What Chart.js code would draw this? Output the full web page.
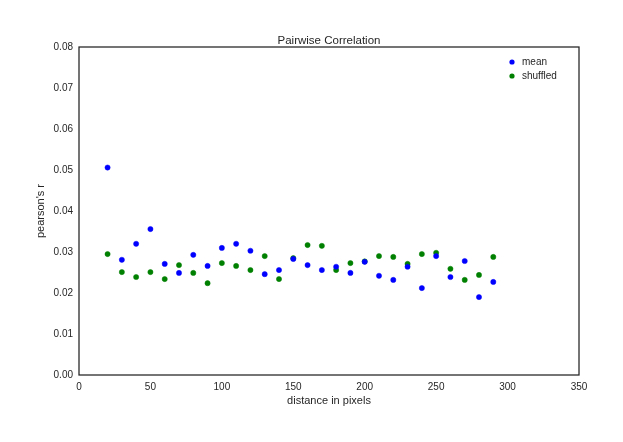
<!DOCTYPE html>
<html>
<head>
<meta charset="utf-8">
<script src="https://cdn.jsdelivr.net/npm/chart.js@4.4.0/dist/chart.umd.min.js"></script>
<style>
  html, body { margin: 0; padding: 0; background: #fff; }
  #wrap { width: 623px; height: 442px; }
</style>
</head>
<body>
<div id="wrap"><canvas id="grafico"></canvas></div>
<script>
// distancias (px) y correlaciones
const distancias = [20, 30, 40, 50, 60, 70, 80, 90, 100, 110, 120, 130, 140, 150,
    160, 170, 180, 190, 200, 210, 220, 230, 240, 250, 260, 270, 280, 290];

const valoresMedia = [0.0506, 0.0281, 0.0320, 0.0356, 0.0271, 0.0249, 0.0293, 0.0266,
    0.0310, 0.0320, 0.0303, 0.0246, 0.0256, 0.0283, 0.0268, 0.0256, 0.0264, 0.0249,
    0.0276, 0.0242, 0.0232, 0.0264, 0.0212, 0.0290, 0.0239, 0.0278, 0.0190, 0.0227];

const valoresMezclados = [0.0295, 0.0251, 0.0239, 0.0251, 0.0234, 0.0268, 0.0249, 0.0224,
    0.0273, 0.0266, 0.0256, 0.0290, 0.0234, 0.0285, 0.0317, 0.0315, 0.0256, 0.0273,
    0.0277, 0.0290, 0.0288, 0.0271, 0.0295, 0.0298, 0.0259, 0.0232, 0.0244, 0.0288];

const ticksY = [0, 0.01, 0.02, 0.03, 0.04, 0.05, 0.06, 0.07, 0.08];
const ticksX = [0, 50, 100, 150, 200, 250, 300, 350];

const colorTexto = '#262626';
const fuente = 'Liberation Sans, Arial, sans-serif';

const aPuntos = (xs, ys) => xs.map((x, i) => ({ x: x, y: ys[i] }));

// titulo, marco y leyenda dibujados sobre el area del grafico
const decoracion = {
    id: 'decoracion',
    afterDraw(chart) {
        const { ctx, chartArea: a } = chart;
        ctx.save();
        ctx.strokeStyle = '#222';
        ctx.lineWidth = 1.25;
        ctx.strokeRect(a.left, a.top, a.right - a.left, a.bottom - a.top);

        ctx.fillStyle = colorTexto;
        ctx.font = '11.5px ' + fuente;
        ctx.textAlign = 'center';
        ctx.textBaseline = 'middle';
        ctx.fillText('Pairwise Correlation', (a.left + a.right) / 2, 41);

        ctx.textAlign = 'left';
        ctx.font = '10px ' + fuente;
        chart.data.datasets.forEach((ds, i) => {
            const y = 62 + i * 14;
            ctx.beginPath();
            ctx.fillStyle = ds.backgroundColor;
            ctx.arc(512, y, 2.6, 0, Math.PI * 2);
            ctx.fill();
            ctx.fillStyle = colorTexto;
            ctx.fillText(ds.label, 522, y);
        });
        ctx.restore();
    }
};

new Chart(document.getElementById('grafico').getContext('2d'), {
    type: 'scatter',
    data: {
        datasets: [
            {
                label: 'mean',
                data: aPuntos(distancias, valoresMedia),
                backgroundColor: '#0000ff',
                borderColor: '#0000ff',
                borderWidth: 0.5,
                pointRadius: 2.6,
            },
            {
                label: 'shuffled',
                data: aPuntos(distancias, valoresMezclados),
                backgroundColor: '#008000',
                borderColor: '#008000',
                borderWidth: 0.5,
                pointRadius: 2.6,
            },
        ],
    },
    options: {
        responsive: true,
        maintainAspectRatio: false,
        animation: false,
        layout: { padding: { left: 0, right: 44, top: 47, bottom: 0 } },
        plugins: {
            legend: { display: false },
            tooltip: { enabled: false },
        },
        scales: {
            x: {
                type: 'linear',
                min: 0,
                max: 350,
                afterFit: (s) => { s.height = 67; },
                afterBuildTicks: (s) => { s.ticks = ticksX.map((v) => ({ value: v })); },
                grid: { display: false, drawTicks: false },
                border: { display: false },
                ticks: {
                    padding: 6,
                    color: colorTexto,
                    font: { family: fuente, size: 10 },
                    maxRotation: 0,
                },
                title: {
                    display: true,
                    text: 'distance in pixels',
                    color: colorTexto,
                    font: { family: fuente, size: 11 },
                    padding: { top: 0, bottom: 34 },
                },
            },
            y: {
                type: 'linear',
                min: 0,
                max: 0.08,
                afterFit: (s) => { s.width = 79; },
                afterBuildTicks: (s) => { s.ticks = ticksY.map((v) => ({ value: v })); },
                grid: { display: false, drawTicks: false },
                border: { display: false },
                ticks: {
                    padding: 6,
                    color: colorTexto,
                    font: { family: fuente, size: 10 },
                    callback: (v) => Number(v).toFixed(2),
                },
                title: {
                    display: true,
                    text: "pearson's r",
                    color: colorTexto,
                    font: { family: fuente, size: 11 },
                    padding: { top: 34, bottom: 0 },
                },
            },
        },
    },
    plugins: [decoracion],
});
</script>
</body>
</html>
